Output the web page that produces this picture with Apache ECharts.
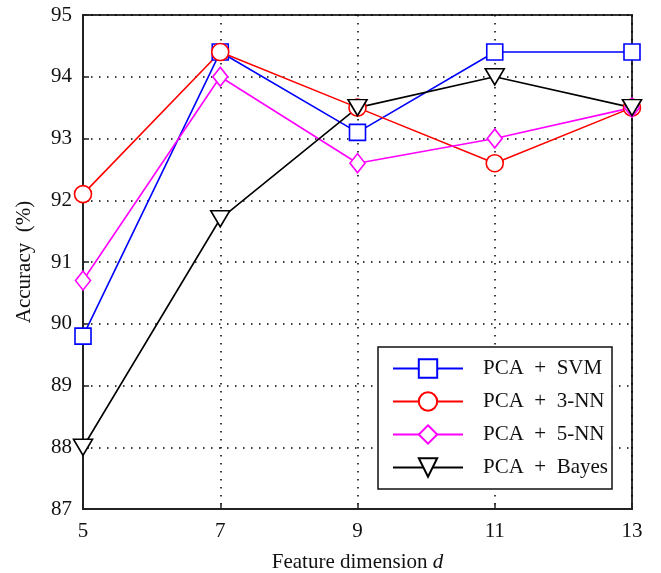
<!DOCTYPE html>
<html>
<head>
<meta charset="utf-8">
<script src="https://cdn.jsdelivr.net/npm/echarts@6/dist/echarts.min.js"></script>
<style>html,body{margin:0;padding:0;background:#fff}#c{width:661px;height:573px}</style>
</head>
<body>
<div id="c"></div>
<script>
var dims = [5, 7, 9, 11, 13];
var svm = [89.8, 94.4, 93.1, 94.4, 94.4];
var nn3 = [92.1, 94.4, 93.5, 92.6, 93.5];
var nn5 = [90.7, 94.0, 92.6, 93.0, 93.5];
var bayes = [88.0, 91.7, 93.5, 94.0, 93.5];
var names = ['PCA  +  SVM', 'PCA  +  3-NN', 'PCA  +  5-NN', 'PCA  +  Bayes'];

var FONT = 'Liberation Serif';
function pairs(v){ return dims.map(function(d,i){ return [d, v[i]]; }); }
function mk(name, data, color, symbol, size){
  return {
    name: name, type: 'line', data: pairs(data),
    symbol: symbol, symbolSize: size, showAllSymbol: true,
    lineStyle: {color: color, width: 1.6},
    itemStyle: {color: '#fff', borderColor: color, borderWidth: 1.6},
    emphasis: {disabled: true}, animation: false, z: 3
  };
}
var chart = echarts.init(document.getElementById('c'), null, {renderer: 'canvas'});
chart.setOption({
  animation: false,
  backgroundColor: '#fff',
  grid: {left: 83, right: 29, top: 15, bottom: 64, containLabel: false, outerBoundsMode: 'none',
         show: true, borderColor: '#333', borderWidth: 2, backgroundColor: 'transparent'},
  xAxis: {
    type: 'value', min: 5, max: 13, interval: 2,
    name: 'Feature dimension {i|d}', nameLocation: 'middle', nameGap: 43,
    nameTextStyle: {fontFamily: FONT, fontSize: 21, color: '#111', rich: {i: {fontFamily: FONT, fontStyle: 'italic', fontSize: 21, color: '#111'}}},
    axisLine: {show: true, lineStyle: {color: '#222', width: 2}},
    axisTick: {show: true, inside: true, length: 6, lineStyle: {color: '#222', width: 1.5}},
    axisLabel: {fontFamily: FONT, fontSize: 21, color: '#111', margin: 12},
    splitLine: {show: true, lineStyle: {color: '#000', width: 1.5, type: [1.5, 6.5]}}
  },
  yAxis: {
    type: 'value', min: 87, max: 95, interval: 1,
    name: 'Accuracy  (%)', nameLocation: 'middle', nameGap: 48,
    nameTextStyle: {fontFamily: FONT, fontSize: 21, color: '#111'},
    axisLine: {show: true, lineStyle: {color: '#222', width: 2}},
    axisTick: {show: true, inside: true, length: 6, lineStyle: {color: '#222', width: 1.5}},
    axisLabel: {fontFamily: FONT, fontSize: 21, color: '#111', margin: 11},
    splitLine: {show: true, lineStyle: {color: '#000', width: 1.5, type: [1.5, 6.5]}}
  },
  legend: {
    orient: 'vertical', left: 378, top: 347,
    padding: [11, 4, 11, 14],
    backgroundColor: '#fff', borderColor: '#111', borderWidth: 1.5,
    itemWidth: 70, itemHeight: 23, itemGap: 12,
    textStyle: {fontFamily: FONT, fontSize: 21, color: '#111', padding: [0, 0, 0, 15]},
    data: names
  },
  series: [
    mk(names[0], svm, '#0000ff', 'rect', 16),
    mk(names[1], nn3, '#ff0000', 'circle', 17),
    mk(names[2], nn5, '#ff00ff', 'diamond', [15, 19]),
    mk(names[3], bayes, '#000000', 'path://M0,0 L20,0 L10,17 Z', [19, 16])
  ]
});
</script>
</body>
</html>
